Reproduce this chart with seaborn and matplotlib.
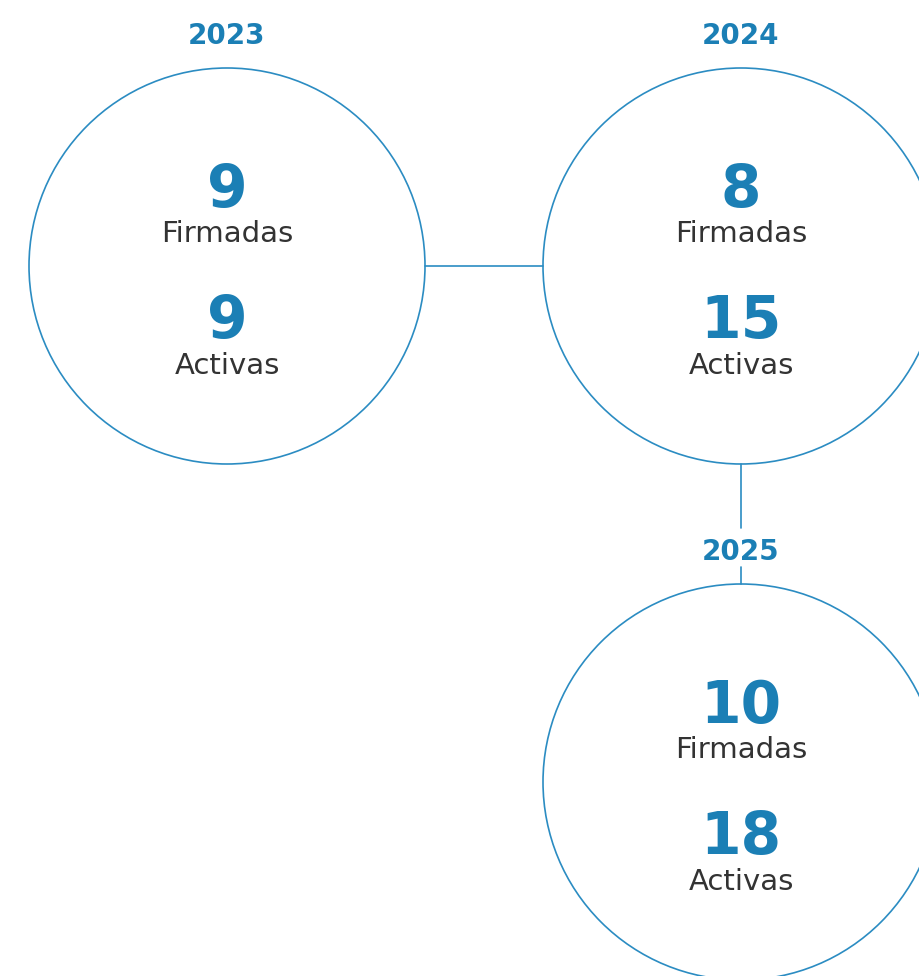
import matplotlib
matplotlib.use("Agg")
import matplotlib.pyplot as plt
from matplotlib.patches import Circle
import seaborn as sns
import pandas as pd

# ---- data ----
years = ["2023", "2024", "2025"]
firmadas = [9, 8, 10]
activas = [9, 15, 18]
label_firmadas = "Firmadas"
label_activas = "Activas"

# ---- layout (pixels) ----
centers_x = [227, 741, 741]
centers_y = [266, 266, 782]
radius = 198

sns.set_theme(style="white")
plt.rcParams['font.family'] = ['DejaVu Sans']

BLUE_LINE = "#2b8cc2"
BLUE_TEXT = "#1b7fb5"
GRAY = "#333333"

fig = plt.figure(figsize=(9.19, 9.76), dpi=100)
ax = fig.add_axes([0, 0, 1, 1])
ax.set_xlim(0, 919)
ax.set_ylim(976, 0)
ax.axis("off")

df = pd.DataFrame({"year": years, "x": centers_x, "y": centers_y,
                   "firmadas": firmadas, "activas": activas})

# connectors
conn = pd.DataFrame({"x": [centers_x[0] + radius, centers_x[1] - radius],
                     "y": [centers_y[0], centers_y[1]]})
sns.lineplot(data=conn, x="x", y="y", ax=ax, color=BLUE_LINE, lw=1.2, sort=False)
ax.plot([centers_x[1], centers_x[1]], [centers_y[1] + radius, 528], color=BLUE_LINE, lw=1.2)
ax.plot([centers_x[2], centers_x[2]], [567, centers_y[2] - radius], color=BLUE_LINE, lw=1.2)

for _, r in df.iterrows():
    ax.add_patch(Circle((r.x, r.y), radius, fill=False, ec=BLUE_LINE, lw=1.2))
    ax.text(r.x, r.y - radius - 24, r.year, ha="center", va="baseline",
            fontsize=20, fontweight="bold", color=BLUE_TEXT)
    ax.text(r.x, r.y - 59, str(r.firmadas), ha="center", va="baseline",
            fontsize=42, fontweight="bold", color=BLUE_TEXT)
    ax.text(r.x, r.y - 24, label_firmadas, ha="center", va="baseline",
            fontsize=21, color=GRAY)
    ax.text(r.x, r.y + 72, str(r.activas), ha="center", va="baseline",
            fontsize=42, fontweight="bold", color=BLUE_TEXT)
    ax.text(r.x, r.y + 108, label_activas, ha="center", va="baseline",
            fontsize=21, color=GRAY)

fig.savefig("out.png", dpi=100, facecolor="white")
